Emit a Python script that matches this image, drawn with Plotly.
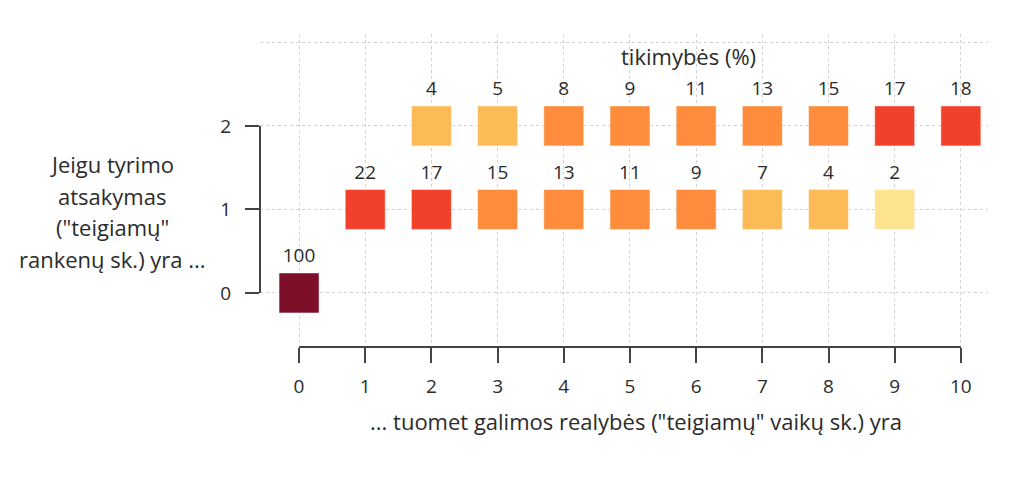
import plotly.graph_objects as go

# Observed "positive" handles (rows) and possible "positive" children (columns)
row_handles = [0, 1, 1, 1, 1, 1, 1, 1, 1, 1, 2, 2, 2, 2, 2, 2, 2, 2, 2]
col_children = [0, 1, 2, 3, 4, 5, 6, 7, 8, 9, 2, 3, 4, 5, 6, 7, 8, 9, 10]
probabilities = [100, 22, 17, 15, 13, 11, 9, 7, 4, 2, 4, 5, 8, 9, 11, 13, 15, 17, 18]

x_ticks = list(range(0, 11))
y_ticks = [0, 1, 2]

x_title = '... tuomet galimos realybės ("teigiamų" vaikų sk.) yra'
y_title_lines = ['Jeigu tyrimo', 'atsakymas', '("teigiamų"', 'rankenų sk.) yra ...']
legend_title = 'tikimybės (%)'

# colour bins (upper bound, colour)
bins = [(3, '#fee391'), (7, '#fdbb58'), (15, '#fd8d3c'), (25, '#f2412a'), (100, '#7d0f29')]


def bin_color(v):
    for upper, c in bins:
        if v <= upper:
            return c
    return bins[-1][1]


colors = [bin_color(v) for v in probabilities]
FONT = '"Open Sans", "Noto Sans", sans-serif'
INK = '#2b2b2b'

fig = go.Figure()
fig.add_trace(go.Scatter(
    x=col_children,
    y=row_handles,
    mode='markers+text',
    marker=dict(symbol='square', size=40, color=colors,
                line=dict(color='rgba(255,255,255,0.5)', width=1)),
    text=[str(v) for v in probabilities],
    textposition='top center',
    textfont=dict(size=19, color=INK, family=FONT),
    hoverinfo='skip',
    showlegend=False,
    cliponaxis=False,
))

grid = dict(showgrid=True, gridcolor='#d2d2d2', griddash='dot', gridwidth=1, zeroline=False)

# page body has an 8px margin, so the margins are shifted to compensate
fig.update_layout(
    width=1022, height=480,
    margin=dict(l=252, r=42, t=26, b=141),
    plot_bgcolor='white', paper_bgcolor='white',
    font=dict(family=FONT, color=INK),
    xaxis=dict(
        range=[-0.59, 10.41], tickmode='array', tickvals=x_ticks,
        ticktext=[str(t) for t in x_ticks],
        ticks='outside', ticklen=15, tickwidth=2, tickcolor='#444',
        ticklabelstandoff=7, tickfont=dict(size=19, color=INK),
        showline=False, **grid,
    ),
    yaxis=dict(
        range=[-0.647, 3.10], tickmode='array', tickvals=y_ticks,
        ticktext=[str(t) for t in y_ticks],
        ticks='outside', ticklen=14, tickwidth=2, tickcolor='#444',
        ticklabelstandoff=10, tickfont=dict(size=19, color=INK),
        showline=False,
        minor=dict(tickvals=[3], showgrid=True, gridcolor='#d2d2d2', griddash='dot', ticks=''),
        **grid,
    ),
)

# axis lines spanning only the data range (R-style)
fig.add_shape(type='line', xref='x', yref='paper', x0=x_ticks[0], x1=x_ticks[-1], y0=0, y1=0,
              line=dict(color='#444', width=2))
fig.add_shape(type='line', xref='paper', yref='y', x0=0, x1=0, y0=y_ticks[0], y1=y_ticks[-1],
              line=dict(color='#444', width=2))

fig.add_annotation(text=x_title, xref='paper', yref='paper', x=0.516, y=-0.235,
                   showarrow=False, font=dict(size=22, color=INK), xanchor='center', yanchor='middle')
for i, line in enumerate(y_title_lines):
    fig.add_annotation(text=line, xref='paper', yref='paper', x=-0.203, y=0.584 - i * 0.101,
                       showarrow=False, font=dict(size=22, color=INK),
                       xanchor='center', yanchor='middle')
fig.add_annotation(text=legend_title, xref='paper', yref='paper', x=0.588, y=0.93,
                   showarrow=False, font=dict(size=22, color=INK), xanchor='center', yanchor='middle')

fig.write_html("out.html")
